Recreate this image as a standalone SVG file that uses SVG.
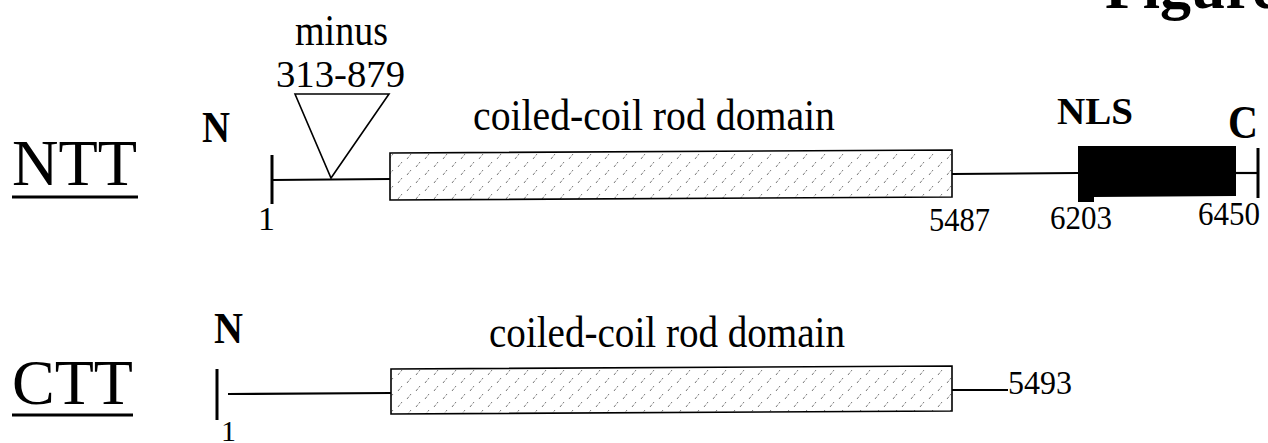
<svg xmlns="http://www.w3.org/2000/svg" width="1268" height="443" viewBox="0 0 1268 443">
<style>
.t{font-family:"Liberation Serif","Times New Roman",serif;fill:#000}
.b{font-weight:bold}
.ln{stroke:#000;stroke-width:2.2;fill:none}
.tick{stroke:#000;stroke-width:3;fill:none}
.rod{fill:url(#hatch);stroke:#000;stroke-width:1.6}
</style>
<defs>
<pattern id="hatch" patternUnits="userSpaceOnUse" width="18" height="16">
<rect width="18" height="16" fill="#fff"/>
<path d="M2 7 L6 2 M11 15 L15 10" stroke="#7a7a7a" stroke-width="1" stroke-dasharray="3 1.5"/>
</pattern>
</defs>
<rect width="1268" height="443" fill="#fff"/>
<text class="t b" x="1105" y="8" font-size="62">Figure</text>

<g id="ntt-label">
<text class="t" x="12" y="185" font-size="65" textLength="125" lengthAdjust="spacingAndGlyphs">NTT</text>
<line x1="12" y1="197" x2="138" y2="197" stroke="#000" stroke-width="3"/>
</g>
<g id="ntt-n">
<text class="t b" x="202" y="142" font-size="44" textLength="28" lengthAdjust="spacingAndGlyphs">N</text>
<line class="tick" x1="272" y1="155" x2="272" y2="204"/>
<text class="t" x="258" y="230" font-size="34">1</text>
</g>
<g id="ntt-deletion">
<text class="t" x="295" y="45" font-size="45" textLength="93" lengthAdjust="spacingAndGlyphs">minus</text>
<text class="t" x="276" y="87" font-size="37" textLength="129" lengthAdjust="spacingAndGlyphs">313-879</text>
<polygon points="295,94 389,94 331,178" fill="#fff" stroke="#000" stroke-width="1.6"/>
</g>
<g id="ntt-rod">
<text class="t" x="473" y="130" font-size="44" textLength="362" lengthAdjust="spacingAndGlyphs">coiled-coil rod domain</text>
<path class="rod" d="M390 153 L952 150 L952 197 L390 200 Z"/>
<text class="t" x="929" y="231" font-size="33" textLength="61" lengthAdjust="spacingAndGlyphs">5487</text>
</g>
<g id="ntt-nls">
<text class="t b" x="1057" y="124" font-size="38" textLength="76" lengthAdjust="spacingAndGlyphs">NLS</text>
<path d="M1078 146 L1236 146 L1236 196 L1094 197 L1094 202 L1078 202 Z" fill="#000"/>
<text class="t" x="1050" y="229" font-size="33" textLength="62" lengthAdjust="spacingAndGlyphs">6203</text>
</g>
<g id="ntt-c">
<text class="t b" x="1228" y="138" font-size="47" textLength="30" lengthAdjust="spacingAndGlyphs">C</text>
<line class="tick" x1="1258" y1="148" x2="1258" y2="198"/>
<text class="t" x="1198" y="225" font-size="33" textLength="62" lengthAdjust="spacingAndGlyphs">6450</text>
</g>

<g id="ctt-label">
<text class="t" x="12" y="404" font-size="64" textLength="121" lengthAdjust="spacingAndGlyphs">CTT</text>
<line x1="12" y1="415" x2="133" y2="415" stroke="#000" stroke-width="3"/>
</g>
<g id="ctt-n">
<text class="t b" x="214" y="343" font-size="44" textLength="29" lengthAdjust="spacingAndGlyphs">N</text>
<line class="tick" x1="217" y1="369" x2="217" y2="420"/>
<text class="t" x="221" y="441" font-size="30">1</text>
</g>
<g id="ctt-rod">
<text class="t" x="489" y="347" font-size="44" textLength="356" lengthAdjust="spacingAndGlyphs">coiled-coil rod domain</text>
<path class="rod" d="M391 369 L952 366 L952 411 L391 414 Z"/>
</g>
<g id="ctt-end">
<text class="t" x="1008" y="394" font-size="34" textLength="64" lengthAdjust="spacingAndGlyphs">5493</text>
</g>

<g id="connectors">
<line class="ln" x1="272" y1="180" x2="390" y2="179"/>
<line class="ln" x1="952" y1="174" x2="1078" y2="173"/>
<line class="ln" x1="1236" y1="173" x2="1258" y2="173"/>
<line class="ln" x1="228" y1="394" x2="391" y2="393"/>
<line class="ln" x1="952" y1="390" x2="1008" y2="390"/>
</g>
</svg>
